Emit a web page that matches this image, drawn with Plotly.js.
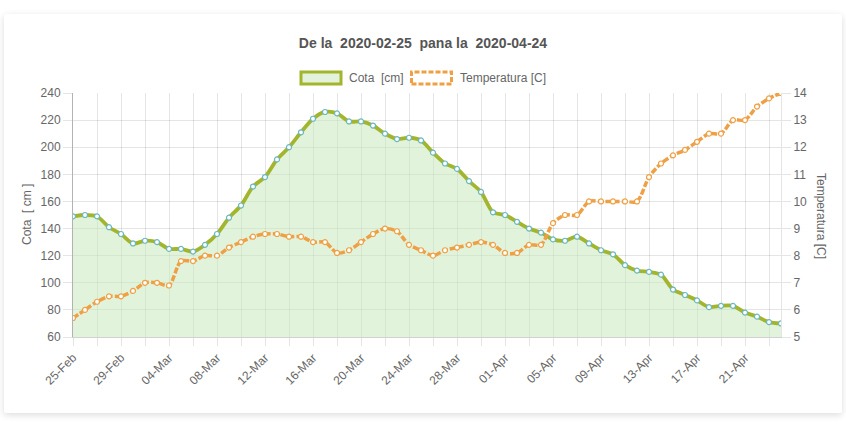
<!DOCTYPE html>
<html>
<head>
<meta charset="utf-8">
<script src="https://cdn.plot.ly/plotly-3.0.1.min.js"></script>
<style>
  html, body { margin:0; padding:0; background:#ffffff; width:846px; height:424px; overflow:hidden; }
  #card { position:absolute; left:4px; top:14px; width:838px; height:399px; background:#fff;
          box-shadow: 0 2px 7px rgba(0,0,0,0.14); border-radius:2px; }
  #chart { position:absolute; left:0; top:0; width:846px; height:424px; }
</style>
</head>
<body>
<div id="card"></div>
<div id="chart"></div>
<script>
const dates = [
  "25-Feb","26-Feb","27-Feb","28-Feb","29-Feb",
  "01-Mar","02-Mar","03-Mar","04-Mar","05-Mar","06-Mar","07-Mar","08-Mar","09-Mar","10-Mar",
  "11-Mar","12-Mar","13-Mar","14-Mar","15-Mar","16-Mar","17-Mar","18-Mar","19-Mar","20-Mar",
  "21-Mar","22-Mar","23-Mar","24-Mar","25-Mar","26-Mar","27-Mar","28-Mar","29-Mar","30-Mar","31-Mar",
  "01-Apr","02-Apr","03-Apr","04-Apr","05-Apr","06-Apr","07-Apr","08-Apr","09-Apr","10-Apr",
  "11-Apr","12-Apr","13-Apr","14-Apr","15-Apr","16-Apr","17-Apr","18-Apr","19-Apr","20-Apr",
  "21-Apr","22-Apr","23-Apr","24-Apr"
];
const cota = [
  149,150,149,141,136,129,131,130,125,125,
  123,128,136,148,157,171,178,191,200,211,
  221,226,225,219,219,216,210,206,207,205,
  196,188,184,175,167,152,150,145,140,137,
  132,131,134,129,124,121,113,109,108,106,
  95,91,87,82,83,83,78,75,71,70
];
const temperatura = [
  5.7,6.0,6.3,6.5,6.5,6.7,7.0,7.0,6.9,7.8,
  7.8,8.0,8.0,8.3,8.5,8.7,8.8,8.8,8.7,8.7,
  8.5,8.5,8.1,8.2,8.5,8.8,9.0,8.9,8.4,8.2,
  8.0,8.2,8.3,8.4,8.5,8.4,8.1,8.1,8.4,8.4,
  9.2,9.5,9.5,10.0,10.0,10.0,10.0,10.0,10.9,11.4,
  11.7,11.9,12.2,12.5,12.5,13.0,13.0,13.5,13.8,14.0
];
const titleText = "De la\u00a0 2020-02-25\u00a0 pana la\u00a0 2020-04-24";
const cotaName = "Cota\u00a0 [cm]";
const tempName = "Temperatura [C]";
const cotaAxisTitle = "Cota\u00a0 [ cm ]";
const tempAxisTitle = "Temperatura [C]";
const cotaTicks = [60,80,100,120,140,160,180,200,220,240];
const tempTicks = [5,6,7,8,9,10,11,12,13,14];

// layout geometry (pixels)
const W = 846, H = 424, L = 73, R = 781, T = 93, B = 337;
const px = x => (x - L) / (R - L);
const py = y => (B - y) / (B - T);

const FONT = '"Liberation Sans", Arial, Helvetica, sans-serif';
const TXT = '#666666';
const GRID = 'rgba(0,0,0,0.1)';
const OLIVE = '#a3b52c';
const ORANGE = '#efa045';

const tickIdx = dates.map((d, i) => i).filter(i => i % 2 === 0);
const tickvals = tickIdx.map(i => dates[i]);
const ticktext = tickIdx.map(i => (i % 4 === 0 ? dates[i] : ''));

const traces = [
  {
    x: dates, y: cota, name: cotaName, type: 'scatter', mode: 'lines+markers',
    line: { color: OLIVE, width: 3.8, shape: 'spline', smoothing: 0.8 },
    marker: { size: 5, color: '#ffffff', line: { color: '#6bb8bd', width: 1.2 } },
    fill: 'tozeroy', fillcolor: 'rgba(200,235,190,0.55)',
    yaxis: 'y', showlegend: false, hoverinfo: 'skip'
  },
  {
    x: dates, y: temperatura, name: tempName, type: 'scatter', mode: 'lines+markers',
    line: { color: ORANGE, width: 3.5, shape: 'spline', smoothing: 0.8, dash: '6px,2px' },
    marker: { size: 5, color: '#ffffff', line: { color: ORANGE, width: 1.2 } },
    yaxis: 'y2', showlegend: false, hoverinfo: 'skip'
  }
];

const layout = {
  width: W, height: H,
  margin: { l: L, r: W - R, t: T, b: H - B, pad: 0 },
  paper_bgcolor: 'rgba(0,0,0,0)', plot_bgcolor: 'rgba(0,0,0,0)',
  font: { family: FONT, size: 12, color: TXT },
  title: {
    text: '<b>' + titleText + '</b>',
    font: { family: FONT, size: 14, color: '#555555' },
    x: 0.5, xref: 'container', xanchor: 'center',
    y: 1 - 43 / H, yref: 'container', yanchor: 'middle'
  },
  xaxis: {
    type: 'category', range: [0, dates.length - 1],
    tickmode: 'array', tickvals: tickvals, ticktext: ticktext,
    tickangle: -45, ticks: 'outside', ticklen: 8, tickcolor: GRID, tickwidth: 1,
    showgrid: true, gridcolor: GRID, gridwidth: 1,
    showline: true, linecolor: 'rgba(0,0,0,0.18)', linewidth: 1,
    zeroline: false, tickfont: { size: 12, color: TXT }
  },
  yaxis: {
    range: [60, 240], tickmode: 'array', tickvals: cotaTicks,
    ticks: 'outside', ticklen: 9, tickcolor: GRID,
    showgrid: true, gridcolor: GRID,
    showline: true, linecolor: 'rgba(0,0,0,0.3)', linewidth: 1,
    zeroline: false, tickfont: { size: 12, color: TXT }
  },
  yaxis2: {
    range: [5, 14], tickmode: 'array', tickvals: tempTicks,
    overlaying: 'y', side: 'right',
    ticks: 'outside', ticklen: 9, tickcolor: GRID,
    showgrid: false, showline: true, linecolor: GRID, linewidth: 1,
    zeroline: false, tickfont: { size: 12, color: TXT }
  },
  shapes: [
    { type: 'rect', xref: 'paper', yref: 'paper',
      x0: px(301), x1: px(341), y0: py(84), y1: py(72),
      fillcolor: '#e2f2dc', line: { color: OLIVE, width: 3 } },
    { type: 'rect', xref: 'paper', yref: 'paper',
      x0: px(411.5), x1: px(451.5), y0: py(84), y1: py(72),
      fillcolor: '#ffffff', line: { color: ORANGE, width: 3, dash: '5px,2px' } }
  ],
  annotations: [
    { text: cotaName, xref: 'paper', yref: 'paper', x: px(347), y: py(78),
      xanchor: 'left', yanchor: 'middle', showarrow: false,
      font: { size: 12, color: TXT, family: FONT } },
    { text: tempName, xref: 'paper', yref: 'paper', x: px(458), y: py(78),
      xanchor: 'left', yanchor: 'middle', showarrow: false,
      font: { size: 12, color: TXT, family: FONT } },
    { text: cotaAxisTitle, xref: 'paper', yref: 'paper', x: px(27), y: py(215),
      xanchor: 'center', yanchor: 'middle', textangle: -90, showarrow: false,
      font: { size: 12, color: TXT, family: FONT } },
    { text: tempAxisTitle, xref: 'paper', yref: 'paper', x: px(821), y: py(216),
      xanchor: 'center', yanchor: 'middle', textangle: 90, showarrow: false,
      font: { size: 12, color: TXT, family: FONT } }
  ]
};

Plotly.newPlot('chart', traces, layout, { staticPlot: true, displayModeBar: false });
</script>
</body>
</html>
